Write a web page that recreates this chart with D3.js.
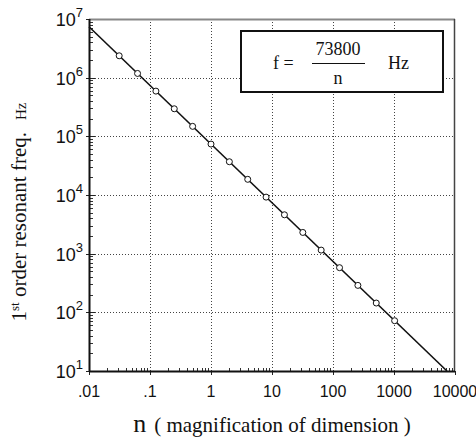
<!DOCTYPE html>
<html lang="en">
<head>
<meta charset="UTF-8">
<title>resonant frequency</title>
<script src="https://cdnjs.cloudflare.com/ajax/libs/d3/7.8.5/d3.min.js"></script>
<style>
  body { margin: 0; background: #fff; }
  svg { display: block; }
</style>
</head>
<body>
<svg width="476" height="439"></svg>
<script>
// data
var markerN = [1/32, 1/16, 1/8, 1/4, 1/2, 1, 2, 4, 8, 16, 32, 64, 128, 256, 512, 1024]
var markerF = [2.36e6, 1.18e6, 5.9e5, 2.95e5, 1.48e5, 7.38e4, 3.69e4, 1.85e4, 9.2e3, 4.6e3, 2.3e3, 1.15e3, 577, 288, 144, 72]
var lineN = [0.01, 7380]
var lineF = [7.38e6, 10]
var xTicks = [0.01, 0.1, 1, 10, 100, 1000, 10000]
var xTickLabels = [".01", ".1", "1", "10", "100", "1000", "10000"]
var yTicks = [1e1, 1e2, 1e3, 1e4, 1e5, 1e6, 1e7]
var yExp = ["1", "2", "3", "4", "5", "6", "7"]

var svg = d3.select("svg")
// plot area edges (note: "top" is reserved on window)
var pL = 89, pR = 455, pT = 19, pB = 371

var x = d3.scaleLog().domain([0.01, 10000]).range([pL, pR])
var y = d3.scaleLog().domain([10, 1e7]).range([pB, pT])
var px = v => Math.round(v) + 0.5

// grid
var grid = svg.append("g").attr("stroke", "#444").attr("stroke-width", 1)
  .attr("stroke-dasharray", "1,2")
grid.selectAll(".gx").data(xTicks.slice(1, -1)).enter().append("line")
  .attr("x1", d => px(x(d))).attr("x2", d => px(x(d)))
  .attr("y1", pT).attr("y2", pB)
grid.selectAll(".gy").data(yTicks.slice(1, -1)).enter().append("line")
  .attr("y1", d => px(y(d))).attr("y2", d => px(y(d)))
  .attr("x1", pL).attr("x2", pR)

// minor ticks
var minorY = y.ticks().filter(d => yTicks.indexOf(d) < 0)
svg.append("g").selectAll("line").data(minorY).enter().append("line")
  .attr("x1", pL).attr("x2", pL + 4)
  .attr("y1", d => px(y(d))).attr("y2", d => px(y(d)))
  .attr("stroke", "#333")
var minorX = x.ticks().filter(d => xTicks.indexOf(d) < 0)
svg.append("g").selectAll("line").data(minorX).enter().append("line")
  .attr("y1", pB).attr("y2", pB - 3)
  .attr("x1", d => px(x(d))).attr("x2", d => px(x(d)))
  .attr("stroke", "#333")
// major ticks
svg.append("g").selectAll("line").data(xTicks).enter().append("line")
  .attr("y1", pB).attr("y2", pB + 4)
  .attr("x1", d => px(x(d))).attr("x2", d => px(x(d)))
  .attr("stroke", "#222")
svg.append("g").selectAll("line").data(yTicks).enter().append("line")
  .attr("x1", pL - 3).attr("x2", pL + 6)
  .attr("y1", d => px(y(d))).attr("y2", d => px(y(d)))
  .attr("stroke", "#222")

// frame
svg.append("line").attr("x1", pL).attr("x2", pR).attr("y1", pT + 0.5).attr("y2", pT + 0.5)
  .attr("stroke", "#888").attr("stroke-width", 2)
svg.append("line").attr("x1", pR - 0.5).attr("x2", pR - 0.5).attr("y1", pT).attr("y2", pB)
  .attr("stroke", "#444").attr("stroke-width", 1.5)
svg.append("line").attr("x1", pL + 0.5).attr("x2", pL + 0.5).attr("y1", pT).attr("y2", pB)
  .attr("stroke", "#111").attr("stroke-width", 2)
svg.append("line").attr("x1", pL).attr("x2", pR).attr("y1", pB + 0.5).attr("y2", pB + 0.5)
  .attr("stroke", "#111").attr("stroke-width", 2)

// fit line
var lineData = lineN.map((n, i) => [n, lineF[i]])
svg.append("path").datum(lineData)
  .attr("d", d3.line().x(d => x(d[0])).y(d => y(d[1])))
  .attr("fill", "none").attr("stroke", "#111").attr("stroke-width", 1.6)

// markers
svg.append("g").selectAll("circle").data(markerN).enter().append("circle")
  .attr("cx", d => x(d)).attr("cy", (d, i) => y(markerF[i]))
  .attr("r", 3).attr("fill", "#fff").attr("stroke", "#111").attr("stroke-width", 1)

// tick labels
var sans = "'Liberation Sans', Arial, sans-serif"
var serif = "'Liberation Serif', 'Times New Roman', serif"
svg.append("g").selectAll("text").data(xTicks).enter().append("text")
  .attr("x", d => x(d)).attr("y", 397)
  .attr("text-anchor", "middle").attr("font-family", sans).attr("font-size", 16)
  .attr("fill", "#111")
  .text((d, i) => xTickLabels[i])
var yl = svg.append("g").selectAll("text").data(yTicks).enter().append("text")
  .attr("x", 83).attr("y", d => y(d) + 7)
  .attr("text-anchor", "end").attr("font-family", sans).attr("font-size", 18)
  .attr("fill", "#111")
yl.append("tspan").text("10")
yl.append("tspan").attr("dy", -9).attr("font-size", 13).text((d, i) => yExp[i])

// axis titles
var yt = svg.append("text")
  .attr("transform", "translate(26," + 212 + ") rotate(-90)")
  .attr("text-anchor", "middle").attr("font-family", serif).attr("font-size", 21)
  .attr("fill", "#111")
yt.append("tspan").text("1")
yt.append("tspan").attr("dy", -7).attr("font-size", 13).text("st")
yt.append("tspan").attr("dy", 7).text(" order resonant freq.")
yt.append("tspan").attr("font-size", 15).attr("dx", 12).text("Hz")

var xt = svg.append("text")
  .attr("x", 272).attr("y", 432)
  .attr("text-anchor", "middle").attr("font-family", serif).attr("font-size", 21)
  .attr("fill", "#111")
xt.append("tspan").attr("font-size", 26).text("n")
xt.append("tspan").attr("dx", 8).text("( magnification of dimension )")

// formula box
var box = svg.append("g")
box.append("rect").attr("x", 241).attr("y", 31).attr("width", 202).attr("height", 61)
  .attr("fill", "#fff").attr("stroke", "#111").attr("stroke-width", 2)
box.append("text").attr("x", 273).attr("y", 69).attr("font-family", serif).attr("font-size", 18)
  .attr("fill", "#111").text("f  =")
box.append("text").attr("x", 338).attr("y", 55).attr("text-anchor", "middle")
  .attr("font-family", serif).attr("font-size", 18).attr("fill", "#111").text("73800")
box.append("line").attr("x1", 312).attr("x2", 365).attr("y1", 63.5).attr("y2", 63.5)
  .attr("stroke", "#111").attr("stroke-width", 1)
box.append("text").attr("x", 338).attr("y", 84).attr("text-anchor", "middle")
  .attr("font-family", serif).attr("font-size", 18).attr("fill", "#111").text("n")
box.append("text").attr("x", 388).attr("y", 69)
  .attr("font-family", serif).attr("font-size", 18).attr("fill", "#111").text("Hz")
</script>
</body>
</html>
